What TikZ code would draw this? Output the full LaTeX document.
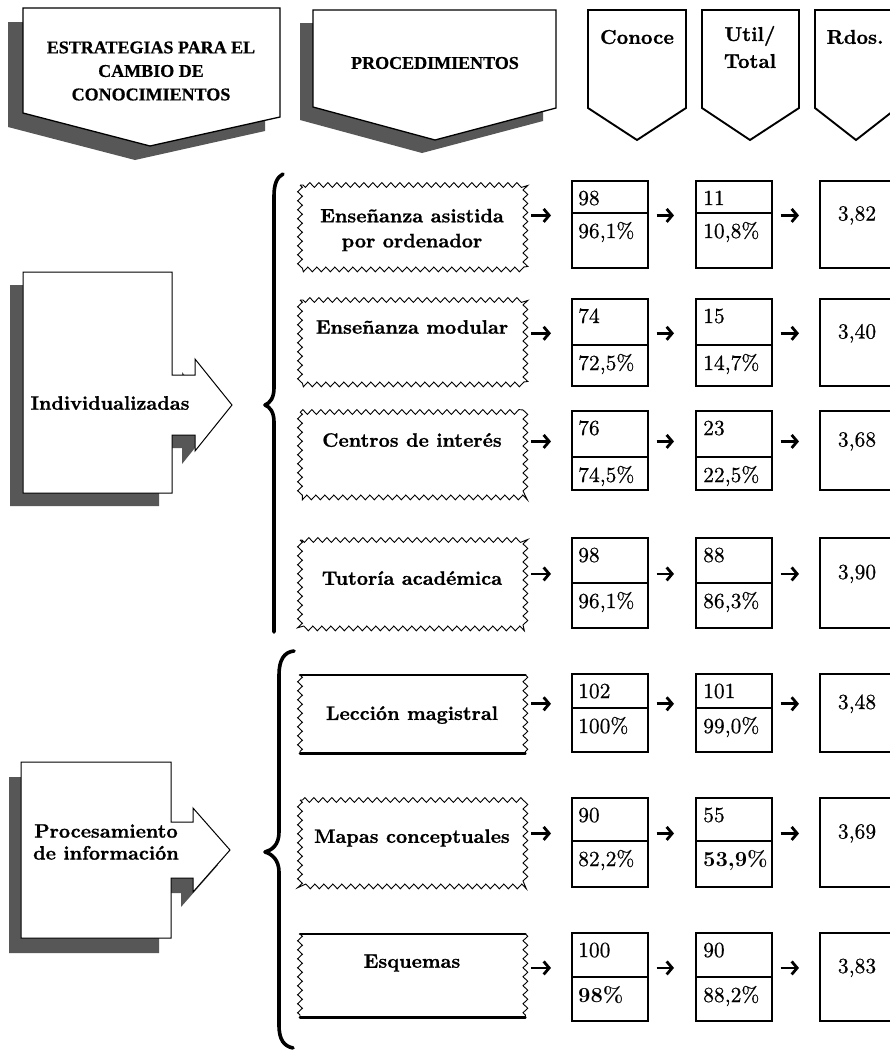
\documentclass[tikz,border=0pt]{standalone}
\usepackage{fontspec}
\setmainfont{lmroman10-regular.otf}[BoldFont=lmroman10-bold.otf, BoldFeatures={FakeBold=1.0}]
\newfontfamily\numfam{lmroman10-regular.otf}[FakeBold=0.6]
\newfontfamily\numbold{lmroman10-bold.otf}
\newfontfamily\capserif{Liberation Serif}[BoldFeatures={FakeBold=0.6}]
\usetikzlibrary{decorations.pathmorphing,arrows.meta}
\newcommand\labfont{\fontsize{19.5}{25}\selectfont\bfseries}
\newcommand\numfont{\numfam\fontsize{21.5}{24}\selectfont}
\newcommand\hdrfont{\capserif\fontsize{18}{23.5}\selectfont\bfseries}
\newcommand\colfont{\fontsize{20}{27}\selectfont\bfseries}
\tikzset{
  shade/.style={fill=black!66},
  hdrwhite/.style={draw, fill=white, line width=1.3pt, line join=miter},
  colhdr/.style={draw, fill=white, line width=1.9pt, line join=miter},
  zz/.style={decorate, decoration={zigzag, segment length=9pt, amplitude=2.4pt}, line width=0.9pt},
  solidedge/.style={line width=2.6pt, line cap=round},
  wavebox/.style={minimum width=225pt, inner sep=0pt, anchor=north west},
  numbox/.style={draw, line width=1.6pt, minimum width=76pt, inner sep=0pt, anchor=north west},
  divline/.style={line width=1.2pt},
  numtxt/.style={font=\numfont, anchor=base west, inner sep=0pt},
  lab/.style={font=\labfont, align=center, inner sep=0pt},
  brace/.style={line width=3.6pt, line cap=round, line join=round},
  arr/.style={line width=2.8pt, -{Straight Barb[length=5.5pt,width=13pt]}},
}
% wave box with zigzag on all four sides
\newcommand\Wave[5]{%
  \node[wavebox, minimum height={#3-#2}] (w#1) at (300,#2) {};
  \draw[zz] (w#1.north west) rectangle (w#1.south east);
  \node[lab] (l#1) at (412,#4) {#5};}
% wave box with zigzag sides and solid top/bottom
\newcommand\WaveB[5]{%
  \node[wavebox, minimum height={#3-#2}] (w#1) at (300,#2) {};
  \draw[zz] (w#1.north west) -- (w#1.south west);
  \draw[zz] (w#1.north east) -- (w#1.south east);
  \draw[solidedge] (w#1.north west) -- (w#1.north east);
  \draw[solidedge] (w#1.south west) -- (w#1.south east);
  \node[lab] (l#1) at (412,#4) {#5};}
% row of number boxes
\newcommand\Row[9]{%
  \node[numbox, minimum height={#3-#2}] (c#1) at (571,#2) {};
  \node[numbox, minimum height={#3-#2}] (u#1) at (695,#2) {};
  \node[numbox, minimum height={#3-#2}, minimum width=90pt] (r#1) at (819,#2) {};
  \draw[divline] (c#1.west |- 0,#4) -- (c#1.east |- 0,#4);
  \draw[divline] (u#1.west |- 0,#4) -- (u#1.east |- 0,#4);
  \node[numtxt] (c#1a) at (578,#2+25) {#5};
  \node[numtxt] (c#1b) at (578,#4+25) {#6};
  \node[numtxt] (u#1a) at (703,#2+25) {#7};
  \node[numtxt] (u#1b) at (703,#4+25) {#8};
  \node[numtxt, anchor=base] (t#1) at (857,{(#2+#3)/2-3}) {#9};
  \draw[arr, shorten <=6pt, shorten >=20pt] (w#1.east |- t#1) -- (c#1.west |- t#1);
  \draw[arr, shorten <=8pt, shorten >=21pt] (c#1.east |- t#1) -- (u#1.west |- t#1);
  \draw[arr, shorten <=8pt, shorten >=20pt] (u#1.east |- t#1) -- (r#1.west |- t#1);}
\begin{document}
\begin{tikzpicture}[x=1pt,y=-1pt]
\useasboundingbox (0,0) rectangle (890,1053);
\fill[white] (0,0) rectangle (890,1053);

% ---- header 1
\fill[shade] (8,22) -- (265,22) -- (265,131) -- (135,160) -- (8,127) -- cycle;
\draw[hdrwhite] (23,8) -- (280,8) -- (280,117) -- (150,146) -- (23,113) -- cycle;
\node[font=\hdrfont, align=center] (h1) at (151,71) {ESTRATEGIAS PARA EL\\CAMBIO DE\\CONOCIMIENTOS};

% ---- header 2
\fill[shade] (300,23) -- (543,23) -- (543,121) -- (422,153) -- (300,120) -- cycle;
\draw[hdrwhite] (313,10) -- (556,10) -- (556,108) -- (435,140) -- (313,107) -- cycle;
\node[font=\hdrfont] (h2) at (435,63) {PROCEDIMIENTOS};

% ---- column headers
\draw[colhdr] (588,10) -- (686,10) -- (686,108) -- (637,140) -- (588,108) -- cycle;
\draw[colhdr] (702,10) -- (799,10) -- (799,108) -- (750,140) -- (702,108) -- cycle;
\draw[colhdr] (815,10) -- (897,10) -- (897,108) -- (856,140) -- (815,108) -- cycle;
\node[font=\colfont] (h3) at (637,37) {Conoce};
\node[font=\colfont, align=center] (h4) at (750,47) {Util/\\Total};
\node[font=\colfont] (h5) at (855,37) {Rdos.};

% ---- left arrow 1
\begin{scope}[shift={(-13,13)}]
\fill[shade] (23,272) -- (172,272) -- (172,375) -- (195,375) -- (195,359) -- (232,405) -- (195,451) -- (195,435) -- (172,435) -- (172,493) -- (23,493) -- cycle;
\end{scope}
\draw[hdrwhite, line width=1pt] (23,272) -- (172,272) -- (172,375) -- (195,375) -- (195,359) -- (232,405) -- (195,451) -- (195,435) -- (172,435) -- (172,493) -- (23,493) -- cycle;
\node[lab] (g1) at (110,403) {Individualizadas};

% ---- left arrow 2
\begin{scope}[shift={(-12,15)}]
\fill[shade] (21,762) -- (171,762) -- (171,822) -- (193,822) -- (193,808) -- (230,850) -- (193,892) -- (193,878) -- (171,878) -- (171,938) -- (21,938) -- cycle;
\end{scope}
\draw[hdrwhite, line width=1pt] (21,762) -- (171,762) -- (171,822) -- (193,822) -- (193,808) -- (230,850) -- (193,892) -- (193,878) -- (171,878) -- (171,938) -- (21,938) -- cycle;
\node[lab, font=\fontsize{19.5}{22}\selectfont\bfseries] (g2) at (106,842) {Procesamiento\\de información};

% ---- braces
\draw[brace] (283,174) .. controls (277,177) and (274,184) .. (274,196) -- (274,388) .. controls (274,398) and (270,403) .. (265,405) .. controls (270,407) and (274,412) .. (274,422) -- (274,632);
\draw[brace] (294,651) .. controls (284,652) and (279,660) .. (279,675) -- (279,832) .. controls (279,845) and (272,850) .. (265,852) .. controls (272,854) and (279,860) .. (279,872) -- (279,1025) .. controls (279,1040) and (284,1046) .. (293,1048);

% ---- procedure boxes
\Wave{1}{185}{269}{230}{Enseñanza asistida\\por ordenador}
\Wave{2}{300}{384}{327}{Enseñanza modular}
\Wave{3}{412}{497}{440}{Centros de interés}
\Wave{4}{540}{628}{578}{Tutoría académica}
\WaveB{5}{675}{753}{715}{Lección magistral}
\Wave{6}{800}{886}{838}{Mapas conceptuales}
\WaveB{7}{934}{1017}{963}{Esquemas}

% ---- number rows
\Row{1}{180}{267}{213}{98}{96,1\%}{11}{10,8\%}{3,82}
\Row{2}{298}{385}{345}{74}{72,5\%}{15}{14,7\%}{3,40}
\Row{3}{410}{489}{457}{76}{74,5\%}{23}{22,5\%}{3,68}
\Row{4}{537}{627}{583}{98}{96,1\%}{88}{86,3\%}{3,90}
\Row{5}{673}{751}{708}{102}{100\%}{101}{99,0\%}{3,48}
\Row{6}{797}{886}{841}{90}{82,2\%}{55}{{\numbold 53,9\%}}{3,69}
\Row{7}{932}{1020}{977}{100}{{\numbold 98\%}}{90}{88,2\%}{3,83}
\end{tikzpicture}
\end{document}
